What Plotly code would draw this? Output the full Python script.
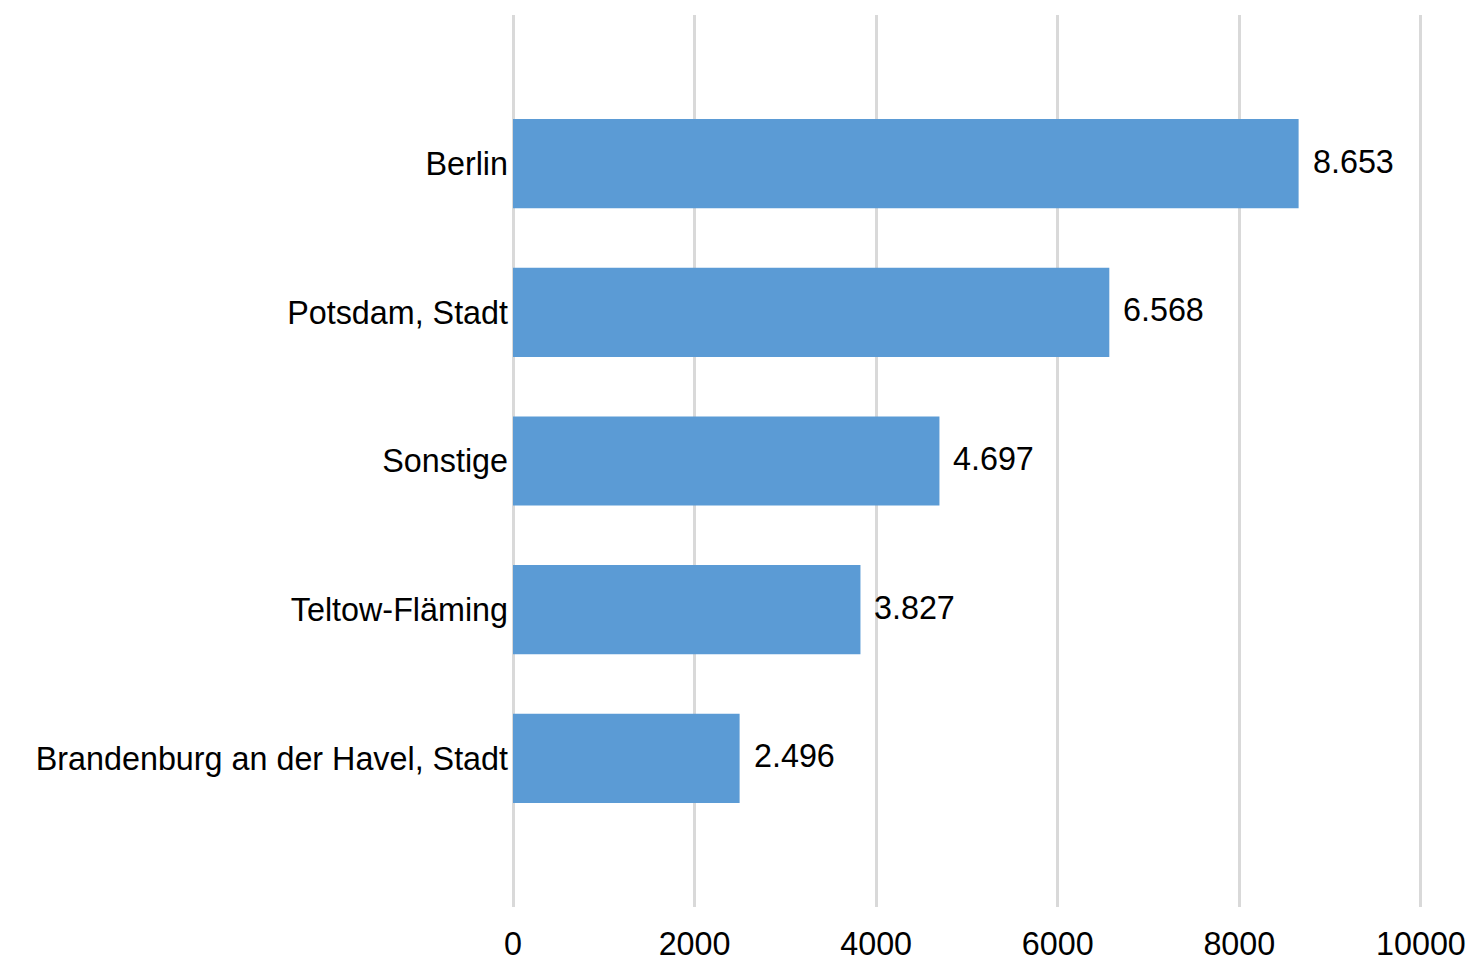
import plotly.graph_objects as go

categories = ["Berlin", "Potsdam, Stadt", "Sonstige", "Teltow-Fläming", "Brandenburg an der Havel, Stadt"]
values = [8653, 6568, 4697, 3827, 2496]
tick_vals = [0, 2000, 4000, 6000, 8000, 10000]
tick_text = ["0", "2000", "4000", "6000", "8000", "10000"]

FONT = "Liberation Sans, Arial, sans-serif"
FS = 32.3

fig = go.Figure()
fig.add_trace(go.Bar(
    x=values,
    y=categories,
    orientation="h",
    marker=dict(color="#5b9bd5", line=dict(width=0)),
    width=0.6,
    hoverinfo="x+y",
))

for c, v in zip(categories, values):
    fig.add_annotation(
        x=v, y=c, xref="x", yref="y",
        text=f"{v:,}".replace(",", "."),
        showarrow=False, xanchor="left", yanchor="middle",
        xshift=12, yshift=2,
        font=dict(family=FONT, size=FS, color="#000000"),
    )

fig.update_layout(
    width=1471, height=967,
    margin=dict(l=513, r=49, t=15, b=60, autoexpand=False),
    paper_bgcolor="white",
    plot_bgcolor="white",
    showlegend=False,
    font=dict(family=FONT, size=FS, color="#000000"),
    bargap=0.4,
)
fig.update_xaxes(
    range=[0, 10012],
    tickvals=tick_vals,
    ticktext=tick_text,
    showgrid=True,
    gridcolor="#d9d9d9",
    gridwidth=3,
    zeroline=True,
    zerolinecolor="#d9d9d9",
    zerolinewidth=3,
    showline=False,
    ticks="",
    ticklabelstandoff=15,
    ticklabeloverflow="allow",
    automargin=False,
    tickfont=dict(family=FONT, size=FS, color="#000000"),
)
fig.update_yaxes(
    autorange=False,
    range=[4 + 1.0, -1.0],
    type="category",
    categoryorder="array",
    categoryarray=categories,
    showgrid=False,
    zeroline=False,
    showline=False,
    ticks="",
    ticklabelstandoff=4,
    automargin=False,
    tickfont=dict(family=FONT, size=FS, color="#000000"),
)

fig.write_html(
    "out.html",
    config={"displayModeBar": False},
    post_script="document.body.style.margin='0';document.body.style.overflow='hidden';",
)
